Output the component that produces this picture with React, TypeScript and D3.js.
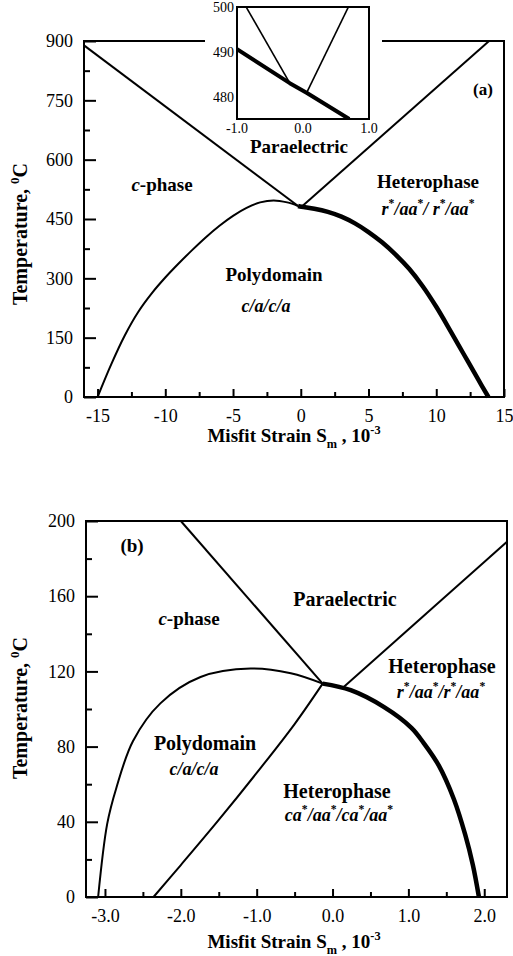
import React, { useRef, useEffect } from 'react';
import * as d3 from 'd3';

const FONT = '"Liberation Serif", "Times New Roman", serif';

// ---- panel (a) ----
const xDomainA = [-16, 15];
const yDomainA = [0, 900];
const xTicksA = [-15, -10, -5, 0, 5, 10, 15];
const xMinorA = [-12.5, -7.5, -2.5, 2.5, 7.5, 12.5];
const yTicksA = [0, 150, 300, 450, 600, 750, 900];
const yMinorA = [75, 225, 375, 525, 675, 825];

const cLineStrainA = [-16, -0.2];
const cLineTempA = [889, 483];
const rLineStrainA = [0.06, 13.9];
const rLineTempA = [481, 900];
const domeStrainA = [-15, -14, -13, -12, -11, -10, -9, -8, -7, -6, -5, -4, -3, -2, -1, -0.2];
const domeTempA = [0, 82, 155, 215, 262, 302, 338, 372, 404, 433, 458, 478, 492, 497, 492, 483];
const heteroStrainA = [-0.2, 0.06, 1, 2, 3, 4, 5, 6, 7, 8, 9, 10, 11, 12, 13, 13.85];
const heteroTempA = [483, 481, 476, 468, 456, 439, 417, 391, 360, 324, 280, 228, 170, 110, 50, 0];

// inset of (a)
const xDomainIn = [-1, 1];
const yDomainIn = [475, 500];
const xTicksIn = [-1, 0, 1];
const yTicksIn = [480, 490, 500];
const insetStrain = [-1, -0.2, 0.06, 0.7];
const insetTemp = [490.6, 483, 480.8, 475];

// ---- panel (b) ----
const xDomainB = [-3.25, 2.3];
const yDomainB = [0, 200];
const xTicksB = [-3, -2, -1, 0, 1, 2];
const xMinorB = [-2.5, -1.5, -0.5, 0.5, 1.5];
const yTicksB = [0, 40, 80, 120, 160, 200];
const yMinorB = [20, 60, 100, 140, 180];

const cLineStrainB = [-2.0, -0.13];
const cLineTempB = [200, 113.5];
const rLineStrainB = [0.14, 2.3];
const rLineTempB = [111.5, 189];
const domeStrainB = [-3.09, -2.97, -2.85, -2.63, -2.27, -1.74, -1.08, -0.55, -0.13];
const domeTempB = [0, 39, 58, 83, 103, 117, 121.5, 119, 113.5];
const heteroStrainB = [-0.13, 0.24, 0.68, 1.04, 1.2, 1.4, 1.6, 1.75, 1.85, 1.93];
const heteroTempB = [113.5, 110, 101, 90, 82, 70, 52, 33, 17, 0];
const caStrainB = [-2.36, -2.0, -1.5, -1.0, -0.5, -0.13];
const caTempB = [0, 17, 41, 66, 92, 113.5];

type Seg = { t: string; it?: boolean; sub?: boolean; sup?: boolean };
type Sel = d3.Selection<any, unknown, null, undefined>;

function richText(g: Sel, x: number, y: number, segs: Seg[], size: number, rotate = false, weight = 'bold') {
  const t = g.append('text')
    .attr('x', x).attr('y', y)
    .attr('text-anchor', 'middle')
    .attr('font-family', FONT)
    .attr('font-size', size)
    .attr('font-weight', weight);
  if (rotate) t.attr('transform', `rotate(-90, ${x}, ${y})`);
  let shift = 0;
  segs.forEach((s) => {
    const target = s.sup ? -size * 0.42 : s.sub ? size * 0.3 : 0;
    t.append('tspan')
      .attr('dy', target - shift)
      .attr('font-size', s.sup || s.sub ? size * 0.65 : size)
      .attr('font-style', s.it ? 'italic' : 'normal')
      .text(s.t);
    shift = target;
  });
}

function drawLine(g: Sel, x: d3.ScaleLinear<number, number>, y: d3.ScaleLinear<number, number>,
  xs: number[], ys: number[], width: number, smooth: boolean) {
  const line = d3.line<number>()
    .x((_, i) => x(xs[i]))
    .y((d) => y(d))
    .curve(smooth ? d3.curveCatmullRom.alpha(0.5) : d3.curveLinear);
  g.append('path')
    .attr('d', line(ys) || '')
    .attr('fill', 'none')
    .attr('stroke', '#000')
    .attr('stroke-width', width)
    .attr('stroke-linejoin', 'round');
}

interface PanelCfg {
  left: number; right: number; top: number; bottom: number;
  xDomain: number[]; yDomain: number[];
  xTicks: number[]; xMinor: number[]; yTicks: number[]; yMinor: number[];
  xFmt: (d: number) => string;
}

function drawAxes(svg: Sel, c: PanelCfg) {
  const x = d3.scaleLinear().domain(c.xDomain).range([c.left, c.right]);
  const y = d3.scaleLinear().domain(c.yDomain).range([c.bottom, c.top]);
  const g = svg.append('g');

  const styleAxis = (a: Sel) => {
    a.select('.domain').remove();
    a.selectAll('line').attr('stroke', '#000').attr('stroke-width', 2);
    a.selectAll('text').attr('font-family', FONT).attr('font-size', 18).attr('fill', '#000');
  };

  g.append('g').attr('transform', `translate(0,${c.bottom})`)
    .call(d3.axisBottom(x).tickValues(c.xTicks).tickSize(-8).tickPadding(12).tickFormat((d) => c.xFmt(+d)))
    .call(styleAxis as any);
  g.append('g').attr('transform', `translate(0,${c.bottom})`)
    .call(d3.axisBottom(x).tickValues(c.xMinor).tickSize(-5).tickFormat(() => ''))
    .call(styleAxis as any);
  g.append('g').attr('transform', `translate(${c.left},0)`)
    .call(d3.axisLeft(y).tickValues(c.yTicks).tickSize(-12).tickPadding(11).tickFormat((d) => String(d)))
    .call(styleAxis as any);
  g.append('g').attr('transform', `translate(${c.left},0)`)
    .call(d3.axisLeft(y).tickValues(c.yMinor).tickSize(-6).tickFormat(() => ''))
    .call(styleAxis as any);

  g.append('rect')
    .attr('x', c.left).attr('y', c.top)
    .attr('width', c.right - c.left).attr('height', c.bottom - c.top)
    .attr('fill', 'none').attr('stroke', '#000').attr('stroke-width', 2);

  return { x, y, g };
}

const App: React.FC = () => {
  const svgRef = useRef<SVGSVGElement>(null);

  useEffect(() => {
    if (!svgRef.current) return;
    const svg = d3.select(svgRef.current) as Sel;
    svg.selectAll('*').remove();

    // ---------- (a) ----------
    const a = drawAxes(svg, {
      left: 84, right: 504, top: 41, bottom: 397,
      xDomain: xDomainA, yDomain: yDomainA,
      xTicks: xTicksA, xMinor: xMinorA, yTicks: yTicksA, yMinor: yMinorA,
      xFmt: (d) => String(d),
    });
    drawLine(a.g, a.x, a.y, cLineStrainA, cLineTempA, 2, false);
    drawLine(a.g, a.x, a.y, rLineStrainA, rLineTempA, 2, false);
    drawLine(a.g, a.x, a.y, domeStrainA, domeTempA, 2, true);
    drawLine(a.g, a.x, a.y, heteroStrainA, heteroTempA, 4.5, true);

    richText(a.g, 483, 95, [{ t: '(a)' }], 17);
    richText(a.g, 162, 191, [{ t: 'c', it: true }, { t: '-phase' }], 19);
    richText(a.g, 428, 188, [{ t: 'Heterophase' }], 19);
    richText(a.g, 428, 215, [
      { t: 'r', it: true }, { t: '*', sup: true }, { t: '/aa', it: true }, { t: '*', sup: true },
      { t: '/ r', it: true }, { t: '*', sup: true }, { t: '/aa', it: true }, { t: '*', sup: true },
    ], 18);
    richText(a.g, 274, 281, [{ t: 'Polydomain' }], 19);
    richText(a.g, 266, 312, [{ t: 'c/a/c/a', it: true }], 18);
    richText(a.g, 299, 153, [{ t: 'Paraelectric' }], 19);
    richText(a.g, 294, 442, [{ t: 'Misfit Strain S' }, { t: 'm', sub: true }, { t: ' , 10' }, { t: '-3', sup: true }], 19);
    richText(a.g, 27, 234, [{ t: 'Temperature, ' }, { t: '0', sup: true }, { t: 'C' }], 20, true);

    // ---------- inset ----------
    const ig = svg.append('g');
    ig.append('rect').attr('x', 205).attr('y', 0).attr('width', 177).attr('height', 126).attr('fill', '#fff');
    const ix = d3.scaleLinear().domain(xDomainIn).range([237, 369]);
    const iy = d3.scaleLinear().domain(yDomainIn).range([119, 7]);
    svg.append('defs').append('clipPath').attr('id', 'insetClip')
      .append('rect').attr('x', 237).attr('y', 7).attr('width', 132).attr('height', 112);
    const ic = ig.append('g').attr('clip-path', 'url(#insetClip)');
    drawLine(ic, ix, iy, cLineStrainA, cLineTempA, 1.6, false);
    drawLine(ic, ix, iy, rLineStrainA, rLineTempA, 1.6, false);
    drawLine(ic, ix, iy, insetStrain, insetTemp, 4, false);
    ig.append('rect').attr('x', 237).attr('y', 7).attr('width', 132).attr('height', 112)
      .attr('fill', 'none').attr('stroke', '#000').attr('stroke-width', 2);
    yTicksIn.forEach((v) => {
      ig.append('text').attr('x', 234).attr('y', iy(v)).attr('dy', '0.35em')
        .attr('text-anchor', 'end').attr('font-family', FONT).attr('font-size', 14).text(String(v));
    });
    xTicksIn.forEach((v) => {
      ig.append('text').attr('x', ix(v)).attr('y', 133)
        .attr('text-anchor', 'middle').attr('font-family', FONT).attr('font-size', 14).text(v.toFixed(1));
    });

    // ---------- (b) ----------
    const b = drawAxes(svg, {
      left: 86, right: 507, top: 521, bottom: 897,
      xDomain: xDomainB, yDomain: yDomainB,
      xTicks: xTicksB, xMinor: xMinorB, yTicks: yTicksB, yMinor: yMinorB,
      xFmt: (d) => d.toFixed(1),
    });
    drawLine(b.g, b.x, b.y, cLineStrainB, cLineTempB, 2, false);
    drawLine(b.g, b.x, b.y, rLineStrainB, rLineTempB, 2, false);
    drawLine(b.g, b.x, b.y, domeStrainB, domeTempB, 2, true);
    drawLine(b.g, b.x, b.y, caStrainB, caTempB, 2, true);
    drawLine(b.g, b.x, b.y, heteroStrainB, heteroTempB, 4.5, true);

    richText(b.g, 132, 552, [{ t: '(b)' }], 19);
    richText(b.g, 345, 606, [{ t: 'Paraelectric' }], 20);
    richText(b.g, 189, 625, [{ t: 'c', it: true }, { t: '-phase' }], 19);
    richText(b.g, 442, 673, [{ t: 'Heterophase' }], 20);
    richText(b.g, 441, 698, [
      { t: 'r', it: true }, { t: '*', sup: true }, { t: '/aa', it: true }, { t: '*', sup: true },
      { t: '/r', it: true }, { t: '*', sup: true }, { t: '/aa', it: true }, { t: '*', sup: true },
    ], 18);
    richText(b.g, 205, 750, [{ t: 'Polydomain' }], 20);
    richText(b.g, 194, 775, [{ t: 'c/a/c/a', it: true }], 18);
    richText(b.g, 337, 798, [{ t: 'Heterophase' }], 20);
    richText(b.g, 339, 821, [
      { t: 'ca', it: true }, { t: '*', sup: true }, { t: '/aa', it: true }, { t: '*', sup: true },
      { t: '/ca', it: true }, { t: '*', sup: true }, { t: '/aa', it: true }, { t: '*', sup: true },
    ], 18);
    richText(b.g, 294, 948, [{ t: 'Misfit Strain S' }, { t: 'm', sub: true }, { t: ' , 10' }, { t: '-3', sup: true }], 19);
    richText(b.g, 27, 708, [{ t: 'Temperature, ' }, { t: '0', sup: true }, { t: 'C' }], 20, true);
  }, []);

  return (
    <svg
      ref={svgRef}
      width={513}
      height={956}
      style={{ position: 'absolute', left: 0, top: 0, background: '#fff' }}
    />
  );
};

export default App;
